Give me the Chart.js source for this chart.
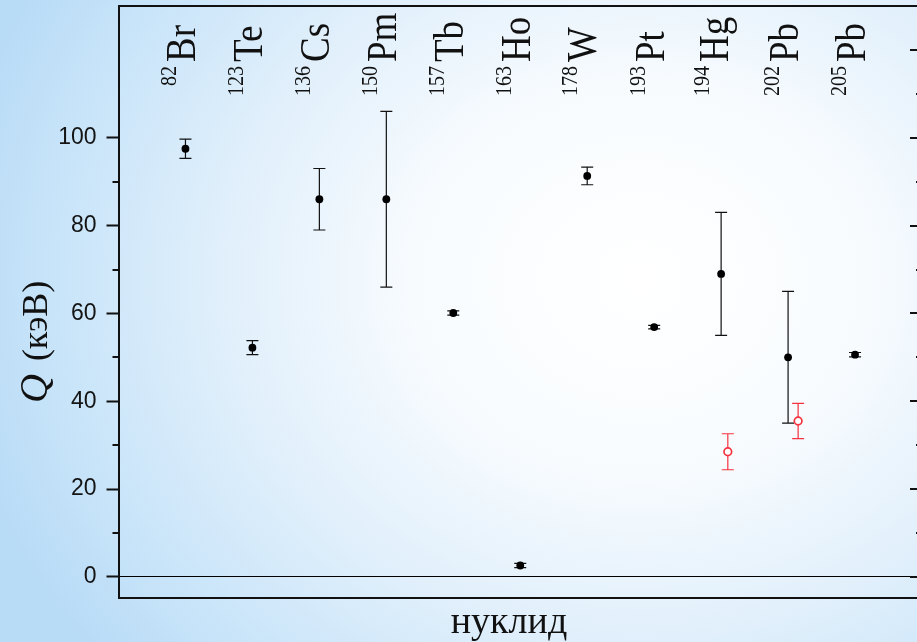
<!DOCTYPE html>
<html>
<head>
<meta charset="utf-8">
<script src="https://cdn.jsdelivr.net/npm/chart.js@4/dist/chart.umd.min.js"></script>
<style>
  html, body { margin: 0; padding: 0; width: 917px; height: 642px; overflow: hidden; }
  body {
    background: radial-gradient(ellipse 700px 600px at 640px 280px,
      #ffffff 0%, #f7fbfe 33%, #e0effb 60%, #c8e4f9 84%, #b8dbf6 100%);
  }
  #wrap { position: absolute; left: 0; top: 0; width: 936px; height: 642px; }
</style>
</head>
<body>
<div id="wrap"><canvas id="chart" width="936" height="642"></canvas></div>
<script>
// Nuclides and their measured Q values (keV) with uncertainties
const elements    = ['Br', 'Te', 'Cs', 'Pm', 'Tb', 'Ho', 'W', 'Pt', 'Hg', 'Pb', 'Pb'];
const massNumbers = ['82', '123', '136', '150', '157', '163', '178', '193', '194', '202', '205'];
const qValues     = [97.5, 52.2, 86.0, 86.0, 60.1, 2.6, 91.3, 56.9, 69.0, 50.0, 50.6];
const qErrors     = [2.2, 1.6, 7.0, 20.0, 0.5, 0.5, 2.0, 0.4, 14.0, 15.0, 0.5];

// Second set of results for 194Hg and 202Pb (open red markers)
const altPositions = [9.1, 10.15];
const altValues    = [28.5, 35.5];
const altErrors    = [4.1, 4.0];

// Axis ticks
const yMajorTicks      = [0, 20, 40, 60, 80, 100];
const yMinorTicks      = [10, 30, 50, 70, 90];
const rightMajorTicks  = [0, 20, 40, 60, 80, 100, 120];
const rightMinorTicks  = [10, 30, 50, 70, 90, 110];

const INK = '#111111';
const RED = '#f5323f';
const SERIF = '"Liberation Serif", "Times New Roman", serif';
const SANS = '"Liberation Sans", Arial, sans-serif';

// Vertical error bars with caps, drawn beneath the markers
const errorBars = {
  id: 'errorBars',
  beforeDatasetsDraw(chart) {
    const { ctx, scales: { y } } = chart;
    chart.data.datasets.forEach((ds, di) => {
      const meta = chart.getDatasetMeta(di);
      ctx.save();
      ctx.strokeStyle = ds.errorColor;
      ctx.lineWidth = 1.2;
      meta.data.forEach((pt, i) => {
        const v = ds.data[i].y, e = ds.errors[i];
        const top = y.getPixelForValue(v + e);
        const bot = y.getPixelForValue(v - e);
        const x = pt.x, half = 6;
        ctx.beginPath();
        ctx.moveTo(x, top); ctx.lineTo(x, bot);
        ctx.moveTo(x - half, top); ctx.lineTo(x + half, top);
        ctx.moveTo(x - half, bot); ctx.lineTo(x + half, bot);
        ctx.stroke();
      });
      ctx.restore();
    });
  }
};

// Minor ticks on the left axis and inward ticks on the right frame
const frameTicks = {
  id: 'frameTicks',
  afterDraw(chart) {
    const { ctx, chartArea: a, scales: { y } } = chart;
    ctx.save();
    ctx.strokeStyle = INK;
    ctx.lineWidth = 2;
    ctx.beginPath();
    yMinorTicks.forEach(v => {
      const py = Math.round(y.getPixelForValue(v));
      ctx.moveTo(a.left - 6, py); ctx.lineTo(a.left, py);
    });
    rightMajorTicks.forEach(v => {
      const py = Math.round(y.getPixelForValue(v));
      ctx.moveTo(a.right - 12, py); ctx.lineTo(a.right, py);
    });
    rightMinorTicks.forEach(v => {
      const py = Math.round(y.getPixelForValue(v));
      ctx.moveTo(a.right - 6, py); ctx.lineTo(a.right, py);
    });
    ctx.stroke();
    ctx.restore();
  }
};

// Rotated nuclide names with superscript mass numbers along the top
const nuclideLabels = {
  id: 'nuclideLabels',
  afterDraw(chart) {
    const { ctx, scales: { x } } = chart;
    const stretch = 1.12, junction = 62, raise = 17;
    elements.forEach((el, i) => {
      const px = x.getPixelForValue(i + 1);
      ctx.save();
      ctx.font = '37px ' + SERIF;
      const desc = ctx.measureText(el).actualBoundingBoxDescent * stretch;
      const base = px + 9.5 - 0.3 * Math.max(0, desc);
      ctx.translate(base, junction);
      ctx.rotate(-Math.PI / 2);
      ctx.scale(1, stretch);
      ctx.fillStyle = INK;
      ctx.textBaseline = 'alphabetic';
      ctx.textAlign = 'left';
      ctx.fillText(el, 0, 0);
      ctx.font = '20px ' + SERIF;
      ctx.textAlign = 'right';
      ctx.fillText(massNumbers[i], -4, -raise);
      ctx.restore();
    });
  }
};

// Axis titles: italic Q with unit in parentheses, and the category title
const axisTitles = {
  id: 'axisTitles',
  afterDraw(chart) {
    const { ctx } = chart;
    ctx.save();
    ctx.fillStyle = INK;
    ctx.translate(47, 403);
    ctx.rotate(-Math.PI / 2);
    ctx.textBaseline = 'alphabetic';
    ctx.textAlign = 'left';
    ctx.font = 'italic 40px ' + SERIF;
    ctx.fillText('Q', 0, 0);
    const qw = ctx.measureText('Q').width;
    ctx.font = '36px ' + SERIF;
    ctx.fillText('(кэВ)', qw + 13, 0);
    ctx.restore();

    ctx.save();
    ctx.fillStyle = INK;
    ctx.font = '38px ' + SERIF;
    ctx.textAlign = 'center';
    ctx.textBaseline = 'alphabetic';
    ctx.fillText('нуклид', 509, 633);
    ctx.restore();
  }
};

new Chart(document.getElementById('chart'), {
  type: 'scatter',
  data: {
    datasets: [
      {
        data: qValues.map((v, i) => ({ x: i + 1, y: v })),
        errors: qErrors,
        errorColor: INK,
        pointRadius: 3.9,
        pointHoverRadius: 3.9,
        backgroundColor: '#000',
        borderColor: '#000',
        borderWidth: 0
      },
      {
        data: altValues.map((v, i) => ({ x: altPositions[i], y: v })),
        errors: altErrors,
        errorColor: RED,
        pointRadius: 3.8,
        pointHoverRadius: 3.8,
        backgroundColor: '#ffffff',
        borderColor: RED,
        borderWidth: 1.7
      }
    ]
  },
  options: {
    responsive: false,
    animation: false,
    events: [],
    layout: { padding: { left: 0, right: 14, top: 6, bottom: 0 } },
    plugins: { legend: { display: false }, tooltip: { enabled: false } },
    scales: {
      x: {
        type: 'linear', min: 0, max: 12, position: 'bottom',
        ticks: { display: false },
        grid: { display: false },
        border: { display: true, color: INK, width: 2 },
        afterFit(s) { s.height = 44; s.paddingLeft = 0; s.paddingRight = 0; }
      },
      xTop: {
        type: 'linear', min: 0, max: 12, position: 'top',
        ticks: { display: false },
        grid: { display: false },
        border: { display: true, color: INK, width: 2 },
        afterFit(s) { s.height = 0; s.paddingLeft = 0; s.paddingRight = 0; }
      },
      y: {
        type: 'linear', min: -4.8, max: 130, position: 'left',
        afterBuildTicks(s) { s.ticks = yMajorTicks.map(v => ({ value: v })); },
        afterFit(s) { s.width = 118.5; s.paddingTop = 0; s.paddingBottom = 0; },
        ticks: {
          callback: v => String(v),
          font: { family: SANS, size: 23 },
          color: '#141414',
          padding: 10
        },
        grid: {
          drawOnChartArea: true,
          color: c => (c.tick && c.tick.value === 0) ? '#000' : 'rgba(0,0,0,0)',
          lineWidth: 1,
          tickLength: 12,
          tickWidth: 2,
          tickColor: INK
        },
        border: { display: true, color: INK, width: 2 }
      },
      yRight: {
        type: 'linear', min: -4.8, max: 130, position: 'right',
        ticks: { display: false },
        grid: { display: false },
        border: { display: true, color: INK, width: 2 },
        afterFit(s) { s.width = 0; s.paddingTop = 0; s.paddingBottom = 0; }
      }
    }
  },
  plugins: [errorBars, frameTicks, nuclideLabels, axisTitles]
});
</script>
</body>
</html>
